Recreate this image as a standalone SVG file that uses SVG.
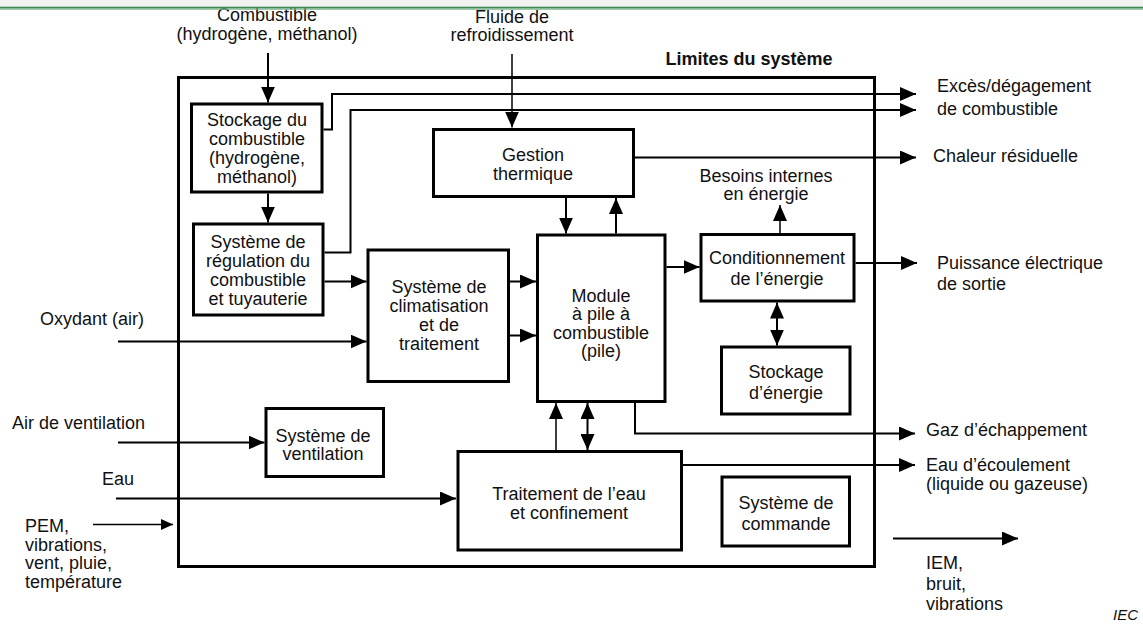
<svg xmlns="http://www.w3.org/2000/svg" width="1143" height="628" viewBox="0 0 1143 628">
<style>
text{font-family:"Liberation Sans",Arial,sans-serif;font-size:18px;fill:#111}
.c{text-anchor:middle}
.b{font-weight:bold}
.box{fill:#fff;stroke:#000;stroke-width:3}
.ln{fill:none;stroke:#000;stroke-width:2}
.thin{fill:none;stroke:#000;stroke-width:1.5}
</style>
<defs>
<marker id="ah" viewBox="0 0 16 14" markerWidth="16" markerHeight="14" refX="16" refY="7" orient="auto-start-reverse" markerUnits="userSpaceOnUse">
<path d="M0,0 L16,7 L0,14 z" fill="#000"/>
</marker>
<marker id="ahs" viewBox="0 0 12 11" markerWidth="12" markerHeight="11" refX="12" refY="5.5" orient="auto" markerUnits="userSpaceOnUse">
<path d="M0,0 L12,5.5 L0,11 z" fill="#000"/>
</marker>
</defs>
<rect width="1143" height="628" fill="#fff"/>

<g id="boundary">
<rect x="178.5" y="77.5" width="696" height="489" fill="none" stroke="#000" stroke-width="3"/>
<text class="b" x="665.5" y="65">Limites du système</text>
</g>

<g id="connectors">
<path class="ln" d="M268,53 V102.5" marker-end="url(#ah)"/>
<path class="ln" d="M268,193.5 V222.5" marker-end="url(#ah)"/>
<path class="ln" d="M323.5,129.5 H332 V94 H916" marker-end="url(#ah)"/>
<path class="ln" d="M324.5,252.5 H350.5 V110 H916" marker-end="url(#ah)"/>
<path class="ln" d="M324.5,281.5 H366.5" marker-end="url(#ah)"/>
<path class="ln" d="M118,341.5 H366.5" marker-end="url(#ah)"/>
<path class="ln" d="M510,281.5 H536" marker-end="url(#ah)"/>
<path class="ln" d="M510,335.5 H536" marker-end="url(#ah)"/>
<path class="thin" d="M512,54 V127.5" marker-end="url(#ah)"/>
<path class="ln" d="M566,198 V233.5" marker-end="url(#ah)"/>
<path class="ln" d="M616,233.5 V198" marker-end="url(#ah)"/>
<path class="ln" d="M635,157.5 H916" marker-end="url(#ah)"/>
<path class="ln" d="M666.5,267 H699.5" marker-end="url(#ah)"/>
<path class="thin" d="M780,233 V205" marker-end="url(#ah)"/>
<path class="ln" d="M855.5,263 H917" marker-end="url(#ah)"/>
<path class="ln" d="M777,302.5 V345.5" marker-start="url(#ah)" marker-end="url(#ah)"/>
<path class="ln" d="M635,403 V433.5 H915" marker-end="url(#ah)"/>
<path class="thin" d="M556,450 V403" marker-end="url(#ah)"/>
<path class="ln" d="M587.5,450 V403" marker-start="url(#ah)" marker-end="url(#ah)"/>
<path class="ln" d="M683,465 H915" marker-end="url(#ah)"/>
<path class="ln" d="M118,442.5 H264.5" marker-end="url(#ah)"/>
<path class="ln" d="M116,498.5 H456" marker-end="url(#ah)"/>
<path class="thin" d="M93,524.5 H173" marker-end="url(#ahs)"/>
<path class="ln" d="M893,538.5 H1018" marker-end="url(#ah)"/>
</g>

<g id="fuel-storage">
<rect class="box" x="191.5" y="104" width="130.5" height="88"/>
<text class="c" x="257" y="126">Stockage du</text>
<text class="c" x="257" y="145">combustible</text>
<text class="c" x="257" y="164">(hydrogène,</text>
<text class="c" x="257" y="183">méthanol)</text>
</g>

<g id="fuel-regulation">
<rect class="box" x="193.5" y="224" width="129.5" height="91"/>
<text class="c" x="258" y="248">Système de</text>
<text class="c" x="258" y="267">régulation du</text>
<text class="c" x="258" y="286">combustible</text>
<text class="c" x="258" y="305">et tuyauterie</text>
</g>

<g id="air-processing">
<rect class="box" x="368" y="250" width="140.5" height="131.5"/>
<text class="c" x="439" y="292.5">Système de</text>
<text class="c" x="439" y="311.5">climatisation</text>
<text class="c" x="439" y="330.5">et de</text>
<text class="c" x="439" y="349.5">traitement</text>
</g>

<g id="thermal">
<rect class="box" x="433.5" y="129.5" width="200" height="67"/>
<text class="c" x="533" y="161">Gestion</text>
<text class="c" x="533" y="180">thermique</text>
</g>

<g id="fuel-cell">
<rect class="box" x="537.5" y="235" width="127.5" height="166.5"/>
<text class="c" x="601" y="301.5">Module</text>
<text class="c" x="601" y="320">à pile à</text>
<text class="c" x="601" y="338.5">combustible</text>
<text class="c" x="601" y="357">(pile)</text>
</g>

<g id="power-conditioning">
<rect class="box" x="701" y="234.5" width="153" height="66.5"/>
<text class="c" x="777" y="263.5">Conditionnement</text>
<text class="c" x="777" y="285">de l’énergie</text>
</g>

<g id="energy-storage">
<rect class="box" x="721.5" y="347" width="128.5" height="67"/>
<text class="c" x="786" y="377.5">Stockage</text>
<text class="c" x="786" y="398.5">d’énergie</text>
</g>

<g id="ventilation">
<rect class="box" x="266" y="408.5" width="117.5" height="68"/>
<text class="c" x="323" y="441.5">Système de</text>
<text class="c" x="323" y="460">ventilation</text>
</g>

<g id="water">
<rect class="box" x="458" y="451.5" width="223.5" height="98.5"/>
<text class="c" x="569" y="499.5">Traitement de l’eau</text>
<text class="c" x="569" y="518.5">et confinement</text>
</g>

<g id="control">
<rect class="box" x="722" y="477" width="127.5" height="69"/>
<text class="c" x="786" y="508.5">Système de</text>
<text class="c" x="786" y="529.5">commande</text>
</g>

<g id="labels">
<text class="c" x="267" y="21">Combustible</text>
<text class="c" x="267" y="39.5">(hydrogène, méthanol)</text>
<text class="c" x="512" y="22.5">Fluide de</text>
<text class="c" x="512" y="41">refroidissement</text>
<text class="c" x="766" y="181.5">Besoins internes</text>
<text class="c" x="766" y="200">en énergie</text>
<text x="937" y="92">Excès/dégagement</text>
<text x="937" y="114.5">de combustible</text>
<text x="933" y="162">Chaleur résiduelle</text>
<text x="937" y="268.5">Puissance électrique</text>
<text x="937" y="290">de sortie</text>
<text x="926" y="435.5">Gaz d’échappement</text>
<text x="926" y="471">Eau d’écoulement</text>
<text x="926" y="490">(liquide ou gazeuse)</text>
<text x="926" y="568.5">IEM,</text>
<text x="926" y="589.5">bruit,</text>
<text x="926" y="610">vibrations</text>
<text x="40" y="325">Oxydant (air)</text>
<text x="12" y="428.5">Air de ventilation</text>
<text x="102" y="485">Eau</text>
<text x="25" y="531.5">PEM,</text>
<text x="25" y="550.5">vibrations,</text>
<text x="25" y="569">vent, pluie,</text>
<text x="25" y="587.5">température</text>
<text x="1113" y="619.5" style="font-size:15px;font-style:italic">IEC</text>
</g>

<g id="header">
<rect x="0" y="0" width="1143" height="7" fill="#f2f2f2"/>
<rect x="0" y="6.7" width="1143" height="1.8" fill="#3d8552"/>
<rect x="0" y="8.5" width="1143" height="1.2" fill="#79b489"/>
</g>
</svg>
